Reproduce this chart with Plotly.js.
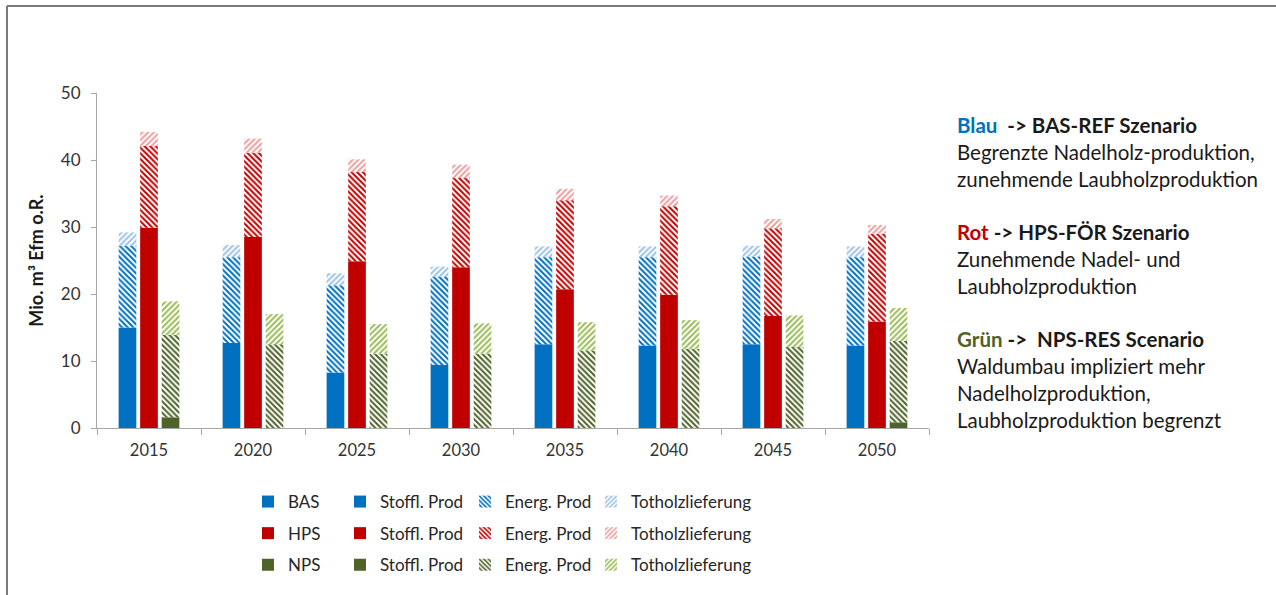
<!DOCTYPE html>
<html>
<head>
<meta charset="utf-8">
<script src="https://cdn.plot.ly/plotly-3.0.1.min.js"></script>
<style>html,body{margin:0;padding:0;background:#fff;}#chart{width:1276px;height:595px;}</style>
</head>
<body>
<div id="chart"></div>
<script>
// ---- data (Mio. m³ Efm o.R.), stacked segment values ----
var years = ['2015','2020','2025','2030','2035','2040','2045','2050'];

var basStoffl = [15.0, 12.7, 8.3, 9.4, 12.5, 12.3, 12.5, 12.3];
var basEnerg  = [12.2, 12.8, 13.0, 13.2, 13.0, 13.2, 13.1, 13.2];
var basTot    = [2.0, 1.8, 1.8, 1.5, 1.6, 1.6, 1.6, 1.6];

var hpsStoffl = [29.9, 28.5, 24.9, 24.0, 20.7, 19.9, 16.7, 15.9];
var hpsEnerg  = [12.2, 12.6, 13.3, 13.3, 13.3, 13.2, 13.1, 13.1];
var hpsTot    = [2.1, 2.1, 1.9, 2.0, 1.7, 1.6, 1.4, 1.3];

var npsStoffl = [1.6, 0, 0, 0, 0, 0, 0, 0.85];
var npsEnerg  = [12.3, 12.5, 11.1, 11.1, 11.5, 11.8, 12.1, 12.15];
var npsTot    = [5.0, 4.5, 4.4, 4.5, 4.3, 4.3, 4.7, 4.9];

var scenarioNames = ['BAS', 'HPS', 'NPS'];
var partNames = ['Stoffl. Prod', 'Energ. Prod', 'Totholzlieferung'];

// ---- styles ----
var solidCol = ['#0070C0', '#C00000', '#4F6228'];
var energCol = ['#0070C0', '#C00000', '#4F6228'];
var totCol   = ['#9DC3E6', '#EBA0A0', '#9BBB59'];
var barW = 0.17;
var centers = [-0.207, 0, 0.207];
var FONT = 'Lato, "Open Sans", sans-serif';

function add(a, b) { return a.map(function (v, i) { return v + b[i]; }); }
function zeros(n) { var r = []; for (var i = 0; i < n; i++) r.push(0); return r; }

var series = [
  [basStoffl, basEnerg, basTot],
  [hpsStoffl, hpsEnerg, hpsTot],
  [npsStoffl, npsEnerg, npsTot]
];

var traces = [];
// column 1 of legend: scenario labels (solid)
scenarioNames.forEach(function (nm, s) {
  traces.push({
    type: 'bar', x: [years[0]], y: [null], name: nm,
    marker: { color: solidCol[s], line: { width: 0 } },
    legend: 'legend', legendgroup: 'sc' + s, hoverinfo: 'skip'
  });
});

var legendIds = ['legend2', 'legend3', 'legend4'];
for (var p = 0; p < 3; p++) {
  for (var s = 0; s < 3; s++) {
    var base = zeros(years.length);
    for (var q = 0; q < p; q++) base = add(base, series[s][q]);
    var marker;
    if (p === 0) {
      marker = { color: solidCol[s], line: { width: 0 } };
    } else if (p === 1) {
      marker = { color: 'white', line: { width: 0 },
        pattern: { shape: '\\', fgcolor: energCol[s], bgcolor: 'white', size: 4, solidity: 0.5, fillmode: 'replace' } };
    } else {
      marker = { color: 'white', line: { width: 0 },
        pattern: { shape: '/', fgcolor: totCol[s], bgcolor: 'white', size: 4, solidity: 0.5, fillmode: 'replace' } };
    }
    traces.push({
      type: 'bar', x: years, y: series[s][p], base: base,
      width: barW, offset: centers[s] - barW / 2,
      name: partNames[p], marker: marker,
      legend: legendIds[p], legendgroup: 'g' + p + s
    });
  }
}

function px2x(px) { return (px - 97) / 832; }
function py2y(py) { return (428 - py) / 335; }

function legendDef(xpx) {
  return {
    x: px2x(xpx), y: py2y(484), xanchor: 'left', yanchor: 'top',
    orientation: 'v', traceorder: 'grouped', tracegroupgap: 6.5,
    font: { family: FONT, size: 17, color: '#262626' },
    bgcolor: 'rgba(0,0,0,0)', borderwidth: 0
  };
}

var txtLines = [
  { t: '<b><span style="color:#0070C0">Blau</span>  -> BAS-REF Szenario</b>', y: 125 },
  { t: 'Begrenzte Nadelholz-produktion,', y: 152 },
  { t: 'zunehmende Laubholzproduktion', y: 179 },
  { t: '<b><span style="color:#C00000">Rot</span> -> HPS-FÖR Szenario</b>', y: 232 },
  { t: 'Zunehmende Nadel- und', y: 259 },
  { t: 'Laubholzproduktion', y: 286 },
  { t: '<b><span style="color:#4F6228">Grün</span> ->  NPS-RES Scenario</b>', y: 339 },
  { t: 'Waldumbau impliziert mehr', y: 366 },
  { t: 'Nadelholzproduktion,', y: 393 },
  { t: 'Laubholzproduktion begrenzt', y: 420 }
];
var annotations = txtLines.map(function (l) {
  return {
    xref: 'paper', yref: 'paper', x: px2x(955), y: py2y(l.y),
    xanchor: 'left', yanchor: 'middle', showarrow: false, align: 'left',
    text: l.t, font: { family: FONT, size: 20.5, color: '#1a1a1a' }
  };
});

var layout = {
  width: 1276, height: 595,
  margin: { l: 97, r: 347, t: 93, b: 167 },
  paper_bgcolor: 'white', plot_bgcolor: 'white',
  barmode: 'overlay',
  showlegend: true,
  font: { family: FONT, color: '#404040' },
  xaxis: {
    type: 'category', categoryorder: 'array', categoryarray: years,
    showline: true, linecolor: '#A6A6A6', linewidth: 1,
    ticks: 'outside', tickson: 'boundaries', ticklen: 6, tickcolor: '#A6A6A6',
    tickfont: { family: FONT, size: 16.5, color: '#333333' },
    ticklabelstandoff: 7,
    showgrid: false, zeroline: false, fixedrange: true
  },
  yaxis: {
    range: [0, 50], dtick: 10, tick0: 0,
    showline: true, linecolor: '#A6A6A6', linewidth: 1,
    ticks: 'outside', ticklen: 5, tickcolor: '#A6A6A6',
    tickfont: { family: FONT, size: 17, color: '#333333' },
    ticklabelstandoff: 7,
    showgrid: false, zeroline: false, fixedrange: true,
    title: { text: '<b>Mio. m³ Efm o.R.</b>', standoff: 12, font: { family: FONT, size: 18, color: '#1a1a1a' } }
  },
  legend: legendDef(248),
  legend2: legendDef(340),
  legend3: legendDef(465),
  legend4: legendDef(591),
  annotations: annotations,
  shapes: [
    { type: 'line', xref: 'paper', yref: 'paper', x0: px2x(7), x1: px2x(1276), y0: py2y(6), y1: py2y(6), line: { color: '#7A7A7A', width: 2 } },
    { type: 'line', xref: 'paper', yref: 'paper', x0: px2x(7), x1: px2x(7), y0: py2y(6), y1: py2y(595), line: { color: '#7A7A7A', width: 2 } }
  ]
};

Plotly.newPlot('chart', traces, layout, { displayModeBar: false, staticPlot: true });
</script>
</body>
</html>
